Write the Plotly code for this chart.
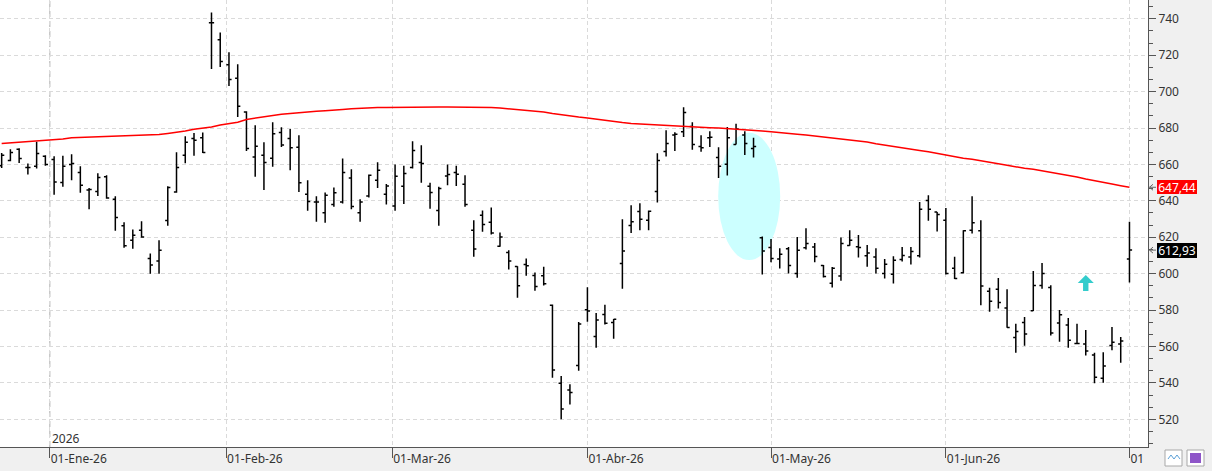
import numpy as np
import pandas as pd
import plotly.graph_objects as go

# ---------------- data ----------------
holidays = ["2025-12-25", "2026-01-01", "2026-01-19", "2026-02-16",
            "2026-04-03", "2026-05-25", "2026-06-19"]
dates = pd.bdate_range("2025-12-23", "2026-07-01", freq="C", holidays=holidays)

open_ = [659.2, 662.1, 668.3, 658.3, 659.0, 664.5, 662.7, 650.1, 659.9, 655.5,
         645.9, 645.1, 653.2, 640.9, 626.3, 618.4, 623.9, 608.3, 606.9, 629.2,
         644.9, 665.1, 674.2, 674.6, 737.8, 728.5, 714.8, 707.3, 688.8, 664.1,
         665.1, 663.4, 677.5, 674.2, 669.4, 643.6, 639.4, 633.4, 638.0, 639.4,
         652.6, 633.4, 642.7, 651.3, 643.6, 637.1, 648.0, 658.3, 661.0, 648.0,
         634.7, 653.7, 655.5, 649.1, 623.9, 632.1, 628.3, 615.1, 611.6, 604.0,
         605.1, 599.0, 598.8, 582.7, 539.8, 536.1, 549.6, 580.2, 565.5, 577.6,
         573.2, 605.6, 626.5, 634.1, 629.4, 645.1, 667.1, 676.2, 678.0, 680.8,
         669.8, 674.7, 663.8, 660.1, 670.9, 676.2, 668.7, 619.7, 614.4, 608.0,
         613.7, 600.1, 614.2, 614.6, 604.5, 594.8, 598.7, 615.5, 614.8, 609.8,
         609.1, 600.1, 599.7, 607.8, 609.1, 609.8, 640.2, 633.8, 629.4, 603.0,
         600.5, 623.9, 623.5, 590.4, 591.5, 581.1, 565.0, 573.2, 579.6, 593.5,
         592.4, 572.9, 571.8, 561.7, 561.4, 555.3, 542.5, 560.6, 561.4, 608.0]

high = [666.3, 668.3, 668.9, 660.5, 672.4, 665.1, 664.5, 664.7, 665.6, 659.0,
        647.1, 655.2, 654.1, 642.5, 628.3, 624.3, 628.8, 611.1, 618.4, 648.0,
        666.7, 675.5, 677.3, 677.5, 743.5, 732.5, 721.6, 715.0, 689.2, 681.5,
        672.2, 683.2, 680.4, 679.5, 676.0, 651.3, 642.5, 644.6, 647.3, 663.2,
        657.4, 640.9, 654.4, 661.2, 649.3, 659.9, 659.2, 672.7, 670.5, 649.9,
        647.7, 659.9, 659.2, 654.1, 629.4, 634.7, 636.3, 622.6, 612.9, 604.1,
        608.3, 600.7, 603.8, 583.1, 543.8, 539.2, 573.4, 592.6, 578.4, 582.9,
        575.1, 629.9, 637.6, 638.7, 634.7, 666.1, 678.8, 677.7, 691.4, 683.2,
        676.0, 678.2, 669.4, 680.6, 682.4, 678.2, 674.6, 620.4, 619.0, 614.0,
        614.6, 620.2, 625.0, 616.8, 604.7, 603.6, 619.9, 623.9, 621.2, 615.7,
        614.0, 608.0, 609.6, 614.6, 614.6, 639.3, 643.1, 633.9, 636.0, 609.3,
        623.9, 642.5, 629.4, 592.3, 597.6, 591.5, 572.5, 576.2, 601.4, 605.8,
        593.7, 580.0, 575.6, 572.5, 569.0, 556.6, 556.9, 570.7, 565.2, 628.5]

low = [658.1, 661.8, 660.8, 654.4, 657.7, 659.2, 643.3, 647.7, 651.3, 644.4,
       635.4, 642.7, 641.1, 623.5, 614.2, 613.7, 619.7, 599.9, 599.9, 626.3,
       644.4, 660.7, 664.7, 666.3, 712.4, 713.5, 703.1, 686.1, 667.4, 653.2,
       646.0, 658.7, 669.6, 656.8, 644.9, 634.5, 628.5, 627.9, 636.7, 638.5,
       635.4, 628.5, 641.8, 647.1, 638.0, 634.5, 638.3, 657.7, 649.9, 635.6,
       626.3, 648.6, 648.2, 636.7, 609.3, 623.0, 621.5, 614.8, 602.3, 586.8,
       598.8, 590.6, 593.5, 542.9, 520.0, 528.1, 546.7, 573.6, 559.3, 572.1,
       564.3, 591.7, 622.4, 623.9, 623.9, 639.1, 664.3, 667.4, 675.1, 668.0,
       666.9, 669.6, 652.6, 653.9, 670.9, 665.2, 663.8, 599.6, 606.2, 602.9,
       600.1, 597.7, 613.3, 606.2, 597.9, 592.4, 596.1, 615.3, 608.9, 603.8,
       600.1, 597.4, 594.6, 606.7, 605.1, 608.9, 629.0, 623.2, 599.6, 597.0,
       600.1, 622.1, 582.6, 579.1, 580.9, 570.3, 556.6, 560.4, 579.5, 591.7,
       566.1, 562.6, 559.3, 561.2, 555.1, 539.8, 540.1, 557.9, 551.1, 595.2]

close = [665.1, 666.5, 663.2, 658.3, 666.0, 659.9, 650.4, 659.0, 660.5, 648.6,
         646.2, 652.8, 641.6, 630.9, 615.3, 621.1, 620.2, 604.7, 612.9, 647.3,
         658.3, 672.2, 673.3, 666.5, 737.8, 716.5, 706.6, 691.9, 668.7, 670.0,
         661.0, 676.9, 670.7, 669.1, 649.9, 639.6, 639.4, 643.1, 644.4, 655.5,
         636.9, 639.3, 654.1, 656.8, 648.2, 653.5, 655.0, 667.6, 660.5, 644.6,
         646.8, 654.4, 654.6, 638.0, 613.5, 627.0, 622.4, 620.2, 606.9, 593.4,
         604.3, 593.0, 594.4, 547.1, 525.7, 534.8, 572.3, 579.5, 574.5, 572.7,
         574.9, 612.4, 628.5, 629.9, 634.3, 662.1, 671.5, 676.6, 688.5, 670.9,
         669.1, 674.9, 659.0, 674.7, 679.5, 671.5, 669.8, 612.4, 608.3, 610.7,
         604.5, 612.9, 616.6, 609.4, 598.5, 603.0, 616.6, 618.4, 614.4, 611.3,
         603.0, 605.2, 607.4, 610.0, 612.2, 635.4, 635.4, 632.5, 600.1, 597.4,
         623.5, 627.9, 593.2, 584.9, 584.2, 570.5, 568.3, 566.8, 593.5, 600.1,
         567.4, 577.4, 563.4, 561.7, 557.5, 543.1, 549.3, 562.3, 563.0, 612.93]

ma = [671.5, 671.8, 672.1, 672.4, 672.8, 673.2, 673.5, 674.0, 674.6, 674.8,
      674.9, 675.0, 675.1, 675.2, 675.4, 675.6, 675.8, 676.0, 676.4, 677.0,
      677.6, 678.4, 679.3, 679.9, 680.5, 681.6, 682.5, 683.2, 684.7, 685.5,
      686.0, 686.8, 687.5, 688.0, 688.5, 688.9, 689.2, 689.5, 689.7, 690.2,
      690.6, 690.9, 691.1, 691.2, 691.3, 691.4, 691.4, 691.4, 691.5, 691.5,
      691.6, 691.6, 691.6, 691.6, 691.5, 691.5, 691.3, 691.0, 690.6, 690.3,
      689.8, 689.4, 688.8, 688.0, 687.2, 686.6, 686.0, 685.5, 684.8, 684.1,
      683.5, 683.0, 682.5, 682.2, 681.9, 681.6, 681.3, 681.1, 680.8, 680.6,
      680.4, 680.2, 680.0, 679.7, 679.4, 679.2, 679.0, 678.3, 677.9, 677.6,
      677.1, 676.6, 676.1, 675.6, 675.0, 674.4, 673.7, 673.2, 672.7, 672.3,
      671.3, 670.5, 669.7, 669.1, 668.3, 667.7, 667.0, 666.0, 665.0, 664.2,
      663.4, 662.8, 662.1, 661.2, 660.4, 659.5, 658.6, 657.9, 657.3, 656.5,
      655.8, 655.0, 654.0, 653.1, 652.0, 651.2, 650.1, 649.2, 648.3, 647.44]

month_starts = ["2026-01-01", "2026-02-01", "2026-03-01", "2026-04-01",
                "2026-05-01", "2026-06-01", "2026-07-01"]
month_labels = ["01-Ene-26", "01-Feb-26", "01-Mar-26", "01-Abr-26",
                "01-May-26", "01-Jun-26", "01"]
year_label = "2026"

# ---------------- positions from data ----------------
idx = np.arange(len(dates))
date_ns = dates.values.astype("int64")
tick_pos = np.interp(pd.to_datetime(month_starts).values.astype("int64"), date_ns, idx)
jan_pos = tick_pos[0]

PLOT_W, PLOT_H = 1148, 447
FONT = "Noto Sans"
GRID = "#dadada"
AXC = "#555555"


def px(x):
    return x / PLOT_W


def py(y):
    return (PLOT_H - y) / PLOT_H


fig = go.Figure()
fig.add_trace(go.Ohlc(
    x=idx, open=open_, high=high, low=low, close=close,
    increasing=dict(line=dict(color="black", width=1.5)),
    decreasing=dict(line=dict(color="black", width=1.5)),
    tickwidth=0.3, hoverinfo="skip", showlegend=False))
fig.add_trace(go.Scatter(
    x=idx, y=ma, mode="lines", line=dict(color="#ff0000", width=1.5),
    hoverinfo="skip", showlegend=False))


def fmt(v):
    return f"{v:.2f}".replace(".", ",")


def left_arrow(yval):
    # small arrow pointing to the axis, anchored on the value
    return dict(type="path", xref="paper", yref="y", ysizemode="pixel", yanchor=yval,
                path="M {a},0 L {b},0 M {a},0 L {c},3 M {a},0 L {c},-3".format(
                    a=px(1149.5), b=px(1156), c=px(1153)),
                line=dict(color="#666666", width=1), layer="above")


shapes = [
    # highlight ellipse
    dict(type="circle", xref="x", yref="y", x0=81.96, x1=89.05, y0=607.5, y1=677.4,
         fillcolor="#ccffff", line=dict(width=0), layer="between"),
    # year separator
    dict(type="line", xref="x", yref="paper", x0=jan_pos, x1=jan_pos, y0=0, y1=1,
         line=dict(color="#c8c8c8", width=1.5, dash="6px,4px"), layer="between"),
    # up arrow
    dict(type="path", xref="x", yref="y", xsizemode="pixel", ysizemode="pixel",
         xanchor=124.0, yanchor=594.9,
         path="M0,8 L8,0 L2.7,0 L2.7,-8 L-2.7,-8 L-2.7,0 L-8,0 Z",
         fillcolor="#33cccc", line=dict(width=0), layer="above"),
    left_arrow(ma[-1]),
    left_arrow(close[-1]),
    # bottom-right buttons
    dict(type="rect", xref="paper", yref="paper",
         x0=px(1165), x1=px(1182), y0=py(466), y1=py(450),
         fillcolor="white", line=dict(color="#a8a8a8", width=1), layer="above"),
    dict(type="rect", xref="paper", yref="paper",
         x0=px(1187), x1=px(1204), y0=py(466), y1=py(450),
         fillcolor="white", line=dict(color="#a8a8a8", width=1), layer="above"),
    dict(type="rect", xref="paper", yref="paper",
         x0=px(1190), x1=px(1201), y0=py(463), y1=py(453),
         fillcolor="#8e55c8", line=dict(width=0), layer="above"),
    dict(type="path", xref="paper", yref="paper",
         path="M {:.5f},{:.5f} L {:.5f},{:.5f} L {:.5f},{:.5f} L {:.5f},{:.5f} L {:.5f},{:.5f}".format(
             px(1168), py(459), px(1171), py(455), px(1174), py(459), px(1177), py(455),
             px(1180), py(459)),
         line=dict(color="#5aa0d8", width=1), layer="above"),
]

annotations = [
    dict(text=fmt(ma[-1]), xref="paper", yref="y", x=px(1157), y=ma[-1],
         xanchor="left", yanchor="middle", showarrow=False, bgcolor="#ff0000",
         font=dict(family=FONT, size=12, color="white"), width=40, height=14,
         borderpad=0, borderwidth=0),
    dict(text=fmt(close[-1]), xref="paper", yref="y", x=px(1157), y=close[-1],
         xanchor="left", yanchor="middle", showarrow=False, bgcolor="black",
         font=dict(family=FONT, size=12, color="white"), width=40, height=15,
         borderpad=0, borderwidth=0),
    dict(text=year_label, xref="x", yref="paper", x=jan_pos, y=py(438),
         xanchor="left", yanchor="middle", xshift=0, showarrow=False,
         font=dict(family=FONT, size=12, color="#333333")),
]

fig.update_layout(
    width=1212, height=471, autosize=False,
    margin=dict(l=0, r=64, t=0, b=24, pad=0),
    paper_bgcolor="#f0f0f0", plot_bgcolor="white",
    showlegend=False, hovermode=False,
    shapes=shapes, annotations=annotations,
    xaxis=dict(
        range=[-0.19, 131.12], tickmode="array", tickvals=tick_pos, ticktext=month_labels,
        showgrid=True, gridcolor=GRID, gridwidth=1, griddash="4px,3px",
        showline=True, linecolor=AXC, linewidth=1,
        ticks="outside", ticklen=10, tickcolor=AXC, tickwidth=1,
        ticklabelposition="outside right", ticklabelstandoff=1,
        tickfont=dict(family=FONT, size=12, color="#333333"),
        zeroline=False, rangeslider=dict(visible=False), fixedrange=True),
    yaxis=dict(
        side="right", range=[504.8, 750.3], tick0=520, dtick=20,
        showgrid=True, gridcolor=GRID, gridwidth=1, griddash="4px,3px",
        showline=True, linecolor=AXC, linewidth=1,
        ticks="outside", ticklen=7, tickcolor=AXC, tickwidth=1,
        minor=dict(tick0=520, dtick=20 / 3, ticks="outside", ticklen=4,
                   tickcolor=AXC, showgrid=False),
        tickfont=dict(family=FONT, size=12, color="#333333"),
        zeroline=False, fixedrange=True),
)

fig.write_html("out.html")
